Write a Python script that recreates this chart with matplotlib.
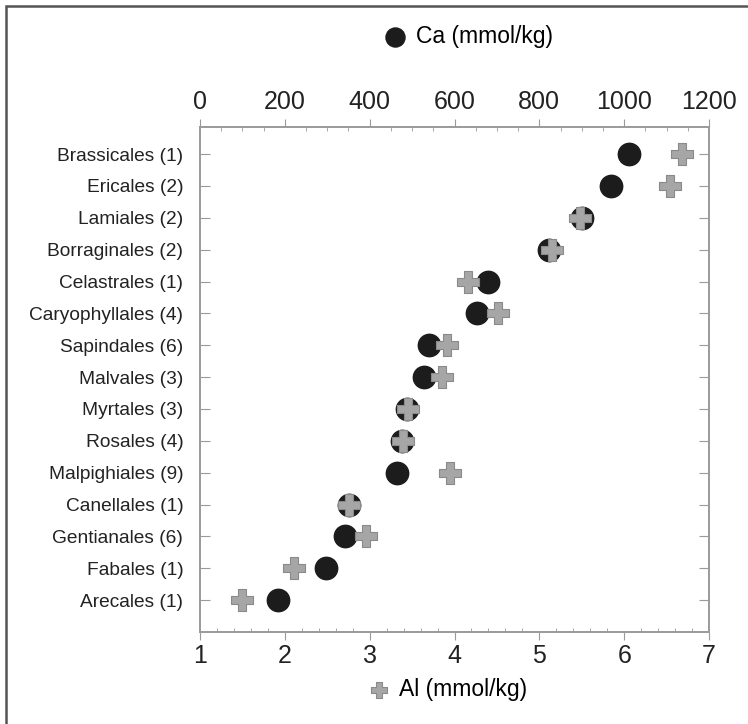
import matplotlib.pyplot as plt
import matplotlib.ticker as ticker
from matplotlib.patches import Rectangle

# orders, listed bottom to top
orders = ['Arecales (1)', 'Fabales (1)', 'Gentianales (6)', 'Canellales (1)',
          'Malpighiales (9)', 'Rosales (4)', 'Myrtales (3)', 'Malvales (3)',
          'Sapindales (6)', 'Caryophyllales (4)', 'Celastrales (1)',
          'Borraginales (2)', 'Lamiales (2)', 'Ericales (2)', 'Brassicales (1)']
ca = [185, 296, 342, 351, 465, 476, 487, 528, 539, 653, 678, 822, 901, 970, 1011]
al = [1.49, 2.11, 2.96, 2.76, 3.95, 3.39, 3.45, 3.85, 3.91, 4.51, 4.16, 5.15,
      5.48, 6.54, 6.68]

plt.rcParams['font.family'] = ['Liberation Sans', 'DejaVu Sans']
spine_col = '#9a9a9a'

fig = plt.figure(figsize=(7.48, 7.24), dpi=100)
ax = fig.add_axes([0.2674, 0.1271, 0.6805, 0.6975])
ax2 = ax.twiny()

ypos = range(len(orders))

# Ca on the top axis
ax.scatter(ca, ypos, s=260, color='#1c1c1c', zorder=3, label='Ca (mmol/kg)')
ax.set_xlim(0, 1200)
ax.xaxis.tick_top()
ax.xaxis.set_major_locator(ticker.MultipleLocator(200))
ax.xaxis.set_minor_locator(ticker.MultipleLocator(50))

# Al on the bottom axis
ax2.scatter(al, ypos, s=230, marker='P', color='#a6a6a6', edgecolor='#8a8a8a',
            linewidth=0.8, zorder=4, label='Al (mmol/kg)')
ax2.set_xlim(1, 7)
ax2.xaxis.tick_bottom()
ax2.xaxis.set_major_locator(ticker.MultipleLocator(1))
ax2.xaxis.set_minor_locator(ticker.MultipleLocator(0.2))

ax.set_ylim(-1.0, 14.85)
ax.set_yticks(list(ypos))
ax.set_yticklabels(orders, fontsize=13.8, color='#222222')
ax.tick_params(axis='y', which='both', direction='in', length=7,
               color=spine_col, left=True, right=True, pad=12)

for a in (ax, ax2):
    a.tick_params(axis='x', which='major', direction='out', length=6,
                  color=spine_col, labelsize=18, labelcolor='#222222', pad=3)
    a.tick_params(axis='x', which='minor', direction='in', length=3,
                  color=spine_col)
    for sp in a.spines.values():
        sp.set_color(spine_col)
        sp.set_linewidth(1.2)

# legends at top and bottom
h1, l1 = ax.get_legend_handles_labels()
h2, l2 = ax2.get_legend_handles_labels()
fig.legend(h1, l1, loc='center', bbox_to_anchor=(0.626, 0.949), frameon=False,
           fontsize=16.5, handlelength=1.0, handletextpad=0.4, markerscale=0.85)
fig.legend(h2, l2, loc='center', bbox_to_anchor=(0.598, 0.047), frameon=False,
           fontsize=16.5, handlelength=1.0, handletextpad=0.4, markerscale=0.75)

# outer frame (left and top edges visible)
fig.patches.append(Rectangle((0.008, -0.1), 1.2, 1.092, transform=fig.transFigure,
                             fill=False, edgecolor='#555555', linewidth=1.8))

plt.savefig('out.png', dpi=100)
